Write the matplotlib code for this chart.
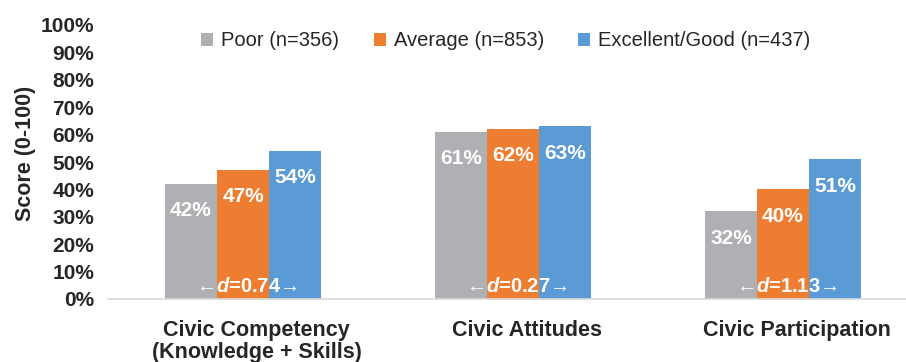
import matplotlib
matplotlib.use("Agg")
import matplotlib.pyplot as plt
import numpy as np

plt.rcParams["font.family"] = ["Liberation Sans", "DejaVu Sans"]
plt.rcParams["mathtext.fontset"] = "custom"
plt.rcParams["mathtext.it"] = "Liberation Sans:italic:bold"
plt.rcParams["mathtext.rm"] = "Liberation Sans:bold"

categories = ["Civic Competency\n(Knowledge + Skills)", "Civic Attitudes", "Civic Participation"]
series = ["Poor (n=356)", "Average (n=853)", "Excellent/Good (n=437)"]
poor = [42, 61, 32]
average = [47, 62, 40]
excellent = [54, 63, 51]
effect_d = ["0.74", "0.27", "1.13"]
colors = ["#afb0b3", "#ed7d31", "#5b9bd5"]

fig = plt.figure(figsize=(9.06, 3.62), dpi=100)
ax = fig.add_axes([108 / 906, 63 / 362, 798 / 906, 274 / 362])

x = np.arange(len(categories))
w = 52 / 270
for i, (vals, col, name) in enumerate(zip([poor, average, excellent], colors, series)):
    xs = x + (i - 1) * w
    ax.bar(xs, vals, width=w, color=col, label=name)
    for xi, v in zip(xs, vals):
        ax.text(xi, v - 6.3, f"{v}%", ha="center", va="top", color="white",
                fontsize=15, fontweight="bold")

for xi, d in zip(x, effect_d):
    ax.text(xi + 0.015, 4.7, "\u2190$d$=" + d + "\u2192", ha="center", va="center",
            color="white", fontsize=14.5, fontweight="bold")

ax.set_xlim(-0.5, 2 + 123 / 270)
ax.set_ylim(0, 100)
ax.set_yticks(np.arange(0, 101, 10))
ax.set_yticklabels([f"{t}%" for t in range(0, 101, 10)], fontsize=15,
                   fontweight="bold", color="#262626")
ax.set_xticks(x + 0.05)
ax.set_xticklabels(categories, fontsize=15.5, fontweight="bold", color="#262626",
                   linespacing=1.1)
ax.tick_params(axis="both", length=0)
ax.tick_params(axis="x", pad=15)
ax.tick_params(axis="y", pad=10)
for s in ["top", "right", "left"]:
    ax.spines[s].set_visible(False)
ax.spines["bottom"].set_color("#d9d9d9")
ax.spines["bottom"].set_linewidth(1.2)

ax.set_ylabel("Score (0-100)", fontsize=15.5, fontweight="bold", color="#262626")
ax.yaxis.set_label_coords(-0.09, 0.53)

ax.legend(loc="center", bbox_to_anchor=(506 / 906, 1 - 41 / 362), bbox_transform=fig.transFigure,
          ncol=3, frameon=False, fontsize=14.5, handlelength=0.6, handleheight=0.6,
          handletextpad=0.4, columnspacing=1.7, labelcolor="#262626")

fig.savefig("out.png", dpi=100)
